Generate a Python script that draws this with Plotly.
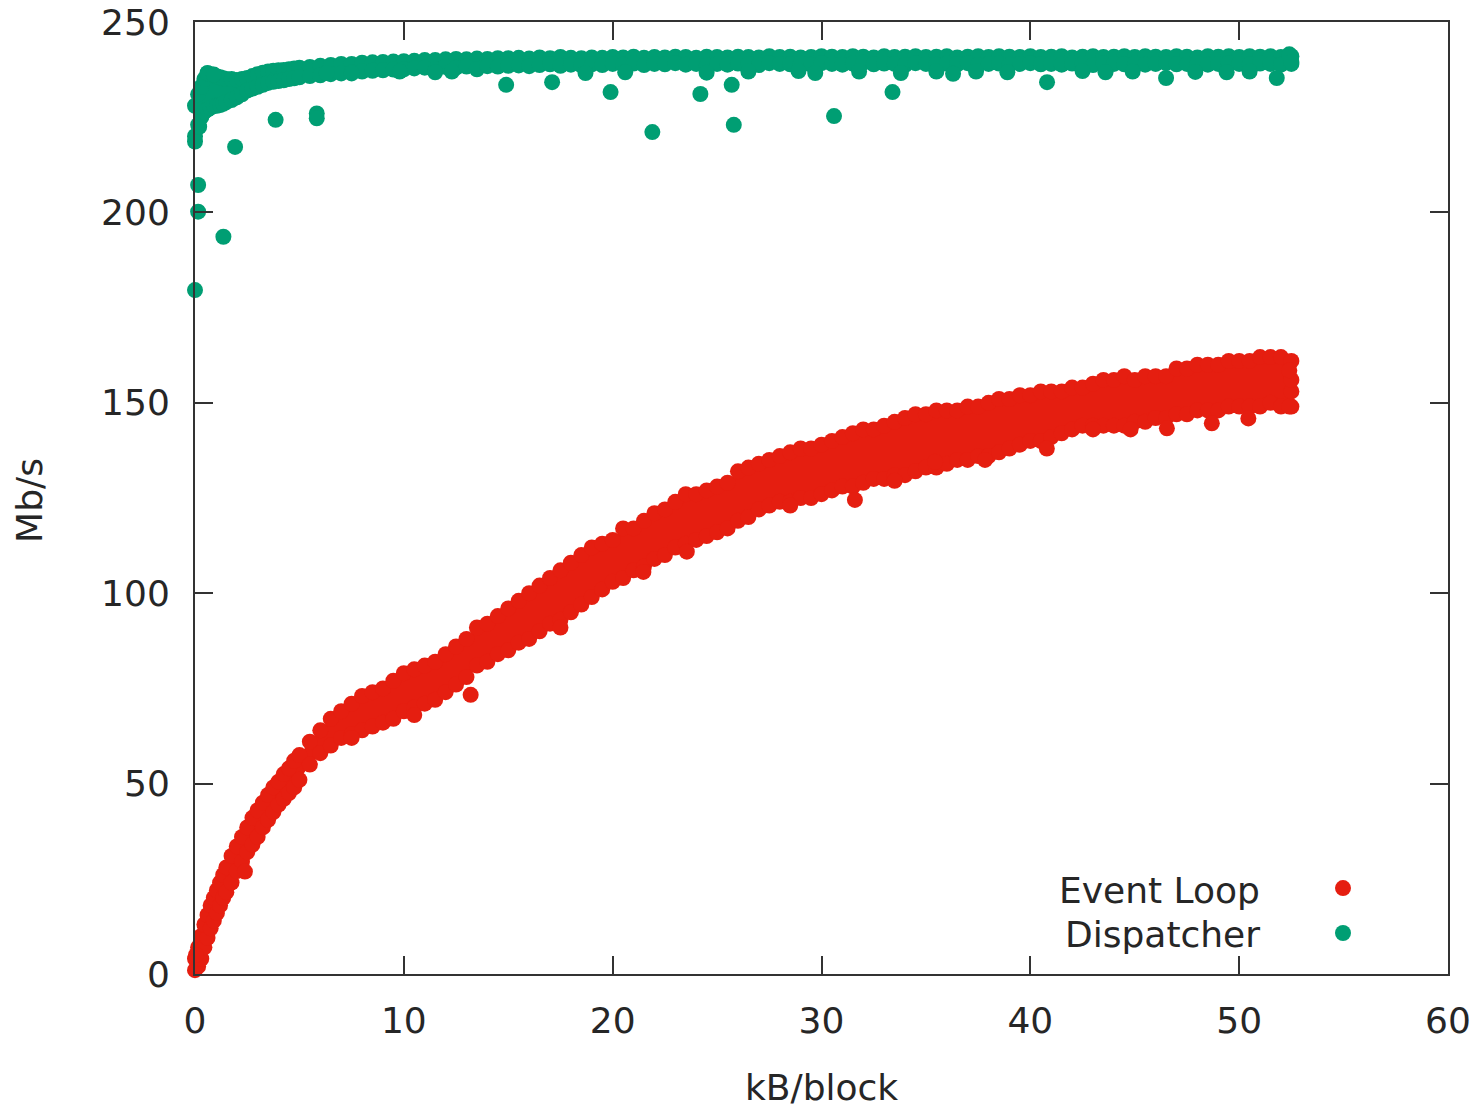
import plotly.graph_objects as go

# ---------------- data ----------------
# Event Loop: upper / lower edge of the dense band of points
EL_X = [0.0, 0.15, 0.3, 0.45, 0.6, 0.75, 0.9, 1.05, 1.2, 1.35, 1.5, 1.75,
        2.0, 2.25, 2.5, 2.75, 3.0, 3.25, 3.5, 3.75, 4.0, 4.25, 4.5, 4.75,
        5.0, 5.5, 6.0, 6.5, 7.0, 7.5, 8.0, 8.5, 9.0, 9.5,
        10.0, 10.5, 11.0, 11.5, 12.0, 12.5, 13.0, 13.5, 14.0, 14.5,
        15.0, 15.5, 16.0, 16.5, 17.0, 17.5, 18.0, 18.5, 19.0, 19.5,
        20.0, 20.5, 21.0, 21.5, 22.0, 22.5, 23.0, 23.5, 24.0, 24.5,
        25.0, 25.5, 26.0, 26.5, 27.0, 27.5, 28.0, 28.5, 29.0, 29.5,
        30.0, 30.5, 31.0, 31.5, 32.0, 32.5, 33.0, 33.5, 34.0, 34.5,
        35.0, 35.5, 36.0, 36.5, 37.0, 37.5, 38.0, 38.5, 39.0, 39.5,
        40.0, 40.5, 41.0, 41.5, 42.0, 42.5, 43.0, 43.5, 44.0, 44.5,
        45.0, 45.5, 46.0, 46.5, 47.0, 47.5, 48.0, 48.5, 49.0, 49.5,
        50.0, 50.5, 51.0, 51.5, 52.0, 52.5]
EL_HI = [4, 7, 10, 13, 15.5, 18, 20, 22, 24, 26, 28, 31,
         33.5, 36, 38.5, 41, 43, 45, 47, 49, 50.5, 52.5, 54, 56,
         57.5, 61, 64, 67, 69, 71, 73, 74, 75, 77,
         79, 80, 81, 82, 84, 86, 88, 91, 92, 94,
         96, 98, 100, 102, 104, 106, 108, 110, 112, 113,
         114, 117, 117, 119, 121, 122, 124, 126, 126, 127,
         128, 129, 132, 133, 134, 135, 136, 137, 138, 138,
         139, 140, 141, 142, 143, 143, 144, 145, 146, 147,
         147, 148, 148, 148, 149, 149, 150, 151, 151, 152,
         152, 153, 153, 153, 154, 154, 155, 156, 156, 157,
         156, 157, 157, 157, 159, 159, 160, 160, 160, 161,
         161, 161, 162, 162, 162, 161]
EL_LO = [1, 2, 4, 7, 9.5, 12, 14, 16, 18, 20, 21.5, 24,
         27, 29.5, 32, 34, 36, 38.5, 40.5, 42.5, 44.5, 46, 47.5, 49,
         51, 55, 58, 60, 62, 63, 64, 65, 66, 67,
         69, 70, 71, 72, 74, 76, 78, 81, 82, 84,
         85, 87, 88, 90, 92, 93, 95, 97, 99, 101,
         103, 104, 106, 107, 109, 110, 112, 113, 114, 115,
         116, 117, 119, 120, 122, 123, 124, 124, 125, 125,
         126, 127, 128, 128, 129, 130, 130, 131, 131, 132,
         133, 133, 134, 135, 135, 136, 136, 137, 138, 139,
         140, 140, 141, 142, 143, 144, 144, 144, 144, 144,
         145, 145, 146, 146, 147, 147, 148, 148, 148, 149,
         149, 149, 149, 150, 149, 149]
# Event Loop: scattered points outside the band
EL_OX = [-0.1, 0.05, 2.39, 7.5, 10.5, 13.2, 17.5, 21.47, 23.55, 28.5, 31.6, 33.5,
         35.44, 37.83, 40.79, 43.0, 44.8, 46.54, 48.69, 50.44, 52.4, 52.5, 52.5, 52.4]
EL_OY = [2, 5, 26.9, 62, 68, 73.3, 91, 105.6, 110.9, 123, 124.5, 129.5,
         134.5, 135, 138, 143, 143, 143.3, 144.6, 145.9, 149, 153, 156, 158.5]

# Dispatcher: upper / lower edge of the dense band of points
DP_X = EL_X
DP_HI = [228, 231, 233, 235, 236.5, 236.3, 236, 235.7, 235.5, 235.2, 235, 235,
         234.8, 235, 235.3, 235.8, 236.3, 236.7, 237, 237.2, 237.3, 237.4, 237.6, 237.8,
         238, 238.2, 238.5, 238.7, 239, 239, 239.3, 239.4, 239.5, 239.6,
         239.7, 239.8, 240, 240, 240.2, 240.3, 240.2, 240.4, 240.3, 240.5,
         240.5, 240.6, 240.4, 240.7, 240.5, 240.8, 240.6, 240.5, 240.7, 240.6,
         240.8, 240.7, 240.9, 240.6, 240.8, 240.7, 240.9, 240.8, 240.6, 240.9,
         240.8, 240.7, 240.9, 240.8, 240.7, 241, 240.8, 240.9, 240.7, 240.8,
         241, 240.9, 240.8, 241, 240.9, 240.7, 241, 240.8, 240.9, 241,
         240.8, 240.9, 241, 240.7, 240.9, 241, 240.8, 241, 240.9, 240.8,
         241, 240.8, 240.9, 241, 240.7, 240.9, 241, 240.8, 240.9, 241,
         240.8, 241, 240.9, 240.8, 241, 240.9, 240.7, 241, 240.9, 241,
         240.8, 241, 240.9, 241, 240.8, 241]
DP_LO = [220, 223, 225, 226.5, 227, 227.5, 228, 228, 228.2, 228.5, 229, 229.5,
         230.2, 231, 232, 232.5, 233, 233.5, 234, 234.3, 234.5, 234.7, 235, 235.2,
         235.5, 235.8, 236, 236.3, 236.5, 236.8, 237, 237.2, 237.3, 237.5,
         237.6, 237.8, 238, 237.5, 238.2, 238, 238.3, 237.6, 238.4, 238.3,
         238.5, 238.6, 238.4, 238.7, 238.9, 238.5, 238.8, 238.6, 238.9, 238.7,
         239, 238.8, 239.1, 238.7, 239, 238.9, 239.2, 238.8, 239, 238.6,
         239, 238.8, 239.1, 239, 238.7, 239.2, 239, 238.9, 239.1, 238.8,
         239.2, 239, 238.8, 239.1, 239.3, 238.9, 239.1, 239, 238.7, 239.2,
         239, 238.8, 239.1, 238.9, 239.2, 238.7, 239, 239.1, 238.8, 239,
         239.2, 238.9, 239, 238.8, 239.1, 239, 238.7, 239.2, 239, 238.9,
         239.1, 238.8, 239, 239.2, 238.9, 239, 239.1, 238.8, 239, 239.2,
         239, 238.9, 239.1, 239, 238.8, 239]
# Dispatcher: scattered points outside the band
DP_OX = [0.0, 0.15, 0.15, 0.0, 0.2, 1.36, 1.92, 3.86, 5.83, 5.83, 0.6, 0.9,
         6.3, 7.5, 9.8, 11.5, 12.3, 14.9, 17.1, 18.7, 19.9, 20.6, 21.9, 24.2,
         24.5, 25.7, 25.8, 26.5, 28.9, 29.7, 30.6, 31.8, 33.4, 33.8, 35.5, 36.3,
         37.4, 38.9, 40.8, 42.5, 43.6, 44.9, 46.5, 47.9, 49.4, 50.5, 51.8, 52.4, 52.5]
DP_OY = [179.6, 200.2, 207.2, 218.6, 222.5, 193.6, 217.2, 224.3, 226.0, 224.7, 236.6, 236.2,
         236.6, 236.5, 237.0, 236.8, 237.0, 233.5, 234.2, 236.6, 231.6, 236.8, 221.1, 231.1,
         236.7, 233.5, 223.0, 237.0, 237.1, 236.6, 225.3, 237.0, 231.6, 236.6, 237.0, 236.4,
         237.0, 236.8, 234.2, 237.1, 236.8, 237.0, 235.3, 236.9, 236.8, 237.0, 235.3, 241.5, 239.5]

X_TICKS = [0, 10, 20, 30, 40, 50, 60]
Y_TICKS = [0, 50, 100, 150, 200, 250]
SERIES = ["Event Loop", "Dispatcher"]

RED = "#e51e10"
GREEN = "#009e73"
FONT = "DejaVu Sans"
TXT = "#262626"
MS = 16

fig = go.Figure()


def add_series(xs, hi, lo, ox, oy, color):
    # solid interior of the band
    fig.add_trace(go.Scatter(x=xs, y=lo, mode="lines", line=dict(width=0, color=color),
                             hoverinfo="skip", showlegend=False))
    fig.add_trace(go.Scatter(x=xs, y=hi, mode="lines", line=dict(width=0, color=color),
                             fill="tonexty", fillcolor=color, hoverinfo="skip", showlegend=False))
    for yy, xx in ((hi, xs), (lo, xs), (oy, ox)):
        fig.add_trace(go.Scatter(x=xx, y=yy, mode="markers", cliponaxis=False,
                                 marker=dict(size=MS, color=color, line=dict(width=0)),
                                 showlegend=False))


add_series(EL_X, EL_HI, EL_LO, EL_OX, EL_OY, RED)
add_series(DP_X, DP_HI, DP_LO, DP_OX, DP_OY, GREEN)

axis_common = dict(showgrid=False, zeroline=False, showline=True, linewidth=2, linecolor="#333333",
                   mirror="ticks", ticks="inside", ticklen=18, tickwidth=2, tickcolor="#333333",
                   automargin=False,
                   tickfont=dict(family=FONT, size=36, color=TXT))

fig.update_xaxes(range=[0, 60], tickvals=X_TICKS, ticktext=[str(v) for v in X_TICKS],
                 ticklabelstandoff=14, **axis_common)
fig.update_yaxes(range=[0, 250], tickvals=Y_TICKS, ticktext=[str(v) for v in Y_TICKS],
                 ticklabelstandoff=16, **axis_common)

# axis titles
fig.add_annotation(text="kB/block", xref="paper", yref="paper", x=0.5, y=-0.1187,
                   showarrow=False, font=dict(family=FONT, size=36, color=TXT),
                   xanchor="center", yanchor="middle")
fig.add_annotation(text="Mb/s", xref="paper", yref="paper", x=-0.1317, y=0.498, textangle=-90,
                   showarrow=False, font=dict(family=FONT, size=36, color=TXT),
                   xanchor="center", yanchor="middle")

# key (text on the left, sample point on the right, as in gnuplot)
for name, color, ty, my in ((SERIES[0], RED, 0.0882, 0.0903), (SERIES[1], GREEN, 0.041, 0.0431)):
    fig.add_annotation(text=name, xref="paper", yref="paper", x=0.8516, y=ty, showarrow=False,
                       xanchor="right", yanchor="middle",
                       font=dict(family=FONT, size=36, color=TXT))
    fig.add_shape(type="circle", xref="paper", yref="paper", xsizemode="pixel", ysizemode="pixel",
                  xanchor=0.9162, yanchor=my, x0=-8, x1=8, y0=-8, y1=8,
                  fillcolor=color, line=dict(width=0))

fig.update_layout(width=1482, height=1109, margin=dict(l=195, r=34, t=22, b=135, autoexpand=False),
                  paper_bgcolor="white", plot_bgcolor="white", showlegend=False)

fig.write_html("out.html", config={"displayModeBar": False},
               post_script="document.body.style.margin='0px';")
